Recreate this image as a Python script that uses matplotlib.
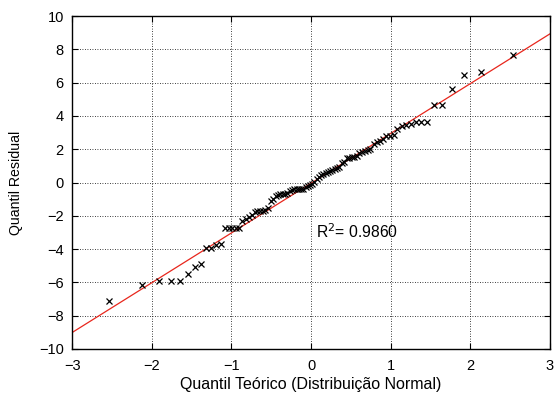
import matplotlib.pyplot as plt

plt.rcParams['font.family'] = ['Liberation Sans', 'DejaVu Sans']
plt.rcParams['font.size'] = 10

# theoretical normal quantiles (n = 90) and sorted residuals
quantis = [
    -2.539, -2.128, -1.914, -1.764, -1.645, -1.545, -1.459, -1.383, -1.314, -1.251,
    -1.192, -1.137, -1.085, -1.036, -0.990, -0.945, -0.903, -0.862, -0.822, -0.784,
    -0.746, -0.710, -0.674, -0.640, -0.606, -0.573, -0.541, -0.509, -0.477, -0.446,
    -0.416, -0.385, -0.356, -0.326, -0.297, -0.268, -0.240, -0.210, -0.182, -0.154,
    -0.126, -0.098, -0.070, -0.042, -0.014, 0.014, 0.042, 0.070, 0.098, 0.126,
    0.154, 0.182, 0.210, 0.240, 0.268, 0.297, 0.326, 0.356, 0.385, 0.416,
    0.446, 0.477, 0.509, 0.541, 0.573, 0.606, 0.640, 0.674, 0.710, 0.746,
    0.784, 0.822, 0.862, 0.903, 0.945, 0.990, 1.036, 1.085, 1.137, 1.192,
    1.251, 1.314, 1.383, 1.459, 1.545, 1.645, 1.764, 1.914, 2.128, 2.539,
]
residuos = [
    -7.10, -6.13, -5.94, -5.94, -5.94, -5.50, -5.08, -4.92, -3.92, -3.92,
    -3.76, -3.72, -2.76, -2.76, -2.76, -2.74, -2.72, -2.34, -2.18, -2.08,
    -1.95, -1.80, -1.74, -1.72, -1.70, -1.68, -1.54, -1.12, -0.98, -0.80,
    -0.75, -0.72, -0.70, -0.68, -0.62, -0.50, -0.44, -0.42, -0.40, -0.40,
    -0.38, -0.38, -0.30, -0.24, -0.18, -0.08, 0.05, 0.22, 0.32, 0.45,
    0.50, 0.55, 0.62, 0.68, 0.74, 0.80, 0.86, 0.92, 1.20, 1.25,
    1.45, 1.48, 1.52, 1.56, 1.62, 1.75, 1.82, 1.90, 1.98, 2.04,
    2.30, 2.42, 2.52, 2.62, 2.80, 2.82, 2.84, 3.22, 3.38, 3.44,
    3.50, 3.62, 3.62, 3.62, 4.67, 4.67, 5.63, 6.47, 6.63, 7.63,
]

# fitted reference line
reta_x = [-3, 3]
inclinacao = 2.99
intercepto = -0.04
r2 = 0.9860

fig = plt.figure(figsize=(5.55, 4), dpi=100)
ax = fig.add_axes([0.13, 0.1275, 0.861, 0.8325])

ax.plot(reta_x, [inclinacao * x + intercepto for x in reta_x], color='#e8261c', lw=0.9, zorder=2)
ax.plot(quantis, residuos, 'x', color='black', ms=4.5, mew=0.9, zorder=3)

ax.set_xlim(-3, 3)
ax.set_ylim(-10, 10)
ax.set_xticks(range(-3, 4))
ax.set_yticks(range(-10, 11, 2))
ax.grid(True, color='black', linestyle=(0, (1, 2)), linewidth=0.6)
ax.tick_params(direction='in', top=True, right=True, length=4, width=0.8, labelsize=10.5)
ax.tick_params(axis='x', pad=7)
ax.tick_params(axis='y', pad=6)
for s in ax.spines.values():
    s.set_linewidth(1.0)

ax.text(0.06, -3.36, 'R$^{\\mathsf{2}}$= %.4f' % r2, fontsize=11.3)

ax.set_xlabel('Quantil Teórico (Distribuição Normal)', fontsize=11.5)
ax.set_ylabel('Quantil Residual', fontsize=10.2)
ax.xaxis.set_label_coords(0.5, -0.085)
ax.yaxis.set_label_coords(-0.103, 0.5)

fig.savefig('out.png', dpi=100)
